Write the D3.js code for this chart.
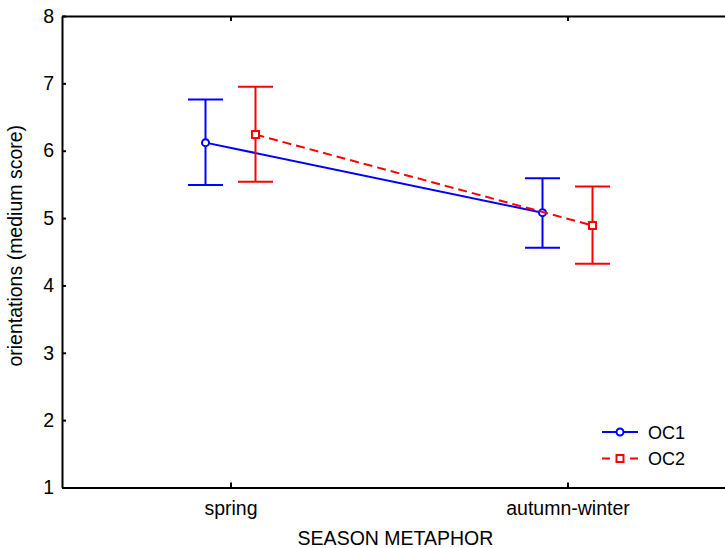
<!DOCTYPE html>
<html>
<head>
<meta charset="utf-8">
<script src="https://cdn.jsdelivr.net/npm/d3@7"></script>
<style>
  body { margin: 0; background: #fff; }
  svg text { font-family: "Liberation Sans", Arial, sans-serif; }
</style>
</head>
<body>
<div id="chart"></div>
<script>
// data
var categories = ["spring", "autumn-winter"];
var oc1Mean = [6.12, 5.08];
var oc1Low  = [5.49, 4.56];
var oc1High = [6.76, 5.59];
var oc2Mean = [6.24, 4.89];
var oc2Low  = [5.54, 4.32];
var oc2High = [6.95, 5.47];
var yTicks = [1, 2, 3, 4, 5, 6, 7, 8];

var W = 725, H = 548;
var margin = {top: 16, right: -11, bottom: 60.5, left: 62},
    width = W - margin.left - margin.right,
    height = H - margin.top - margin.bottom;

var fs = 19.5;

var svg = d3.select("#chart")
  .append("svg")
    .attr("width", W)
    .attr("height", H)
  .append("g")
    .attr("transform", "translate(" + margin.left + "," + margin.top + ")");

var x = d3.scalePoint()
    .domain(categories)
    .range([0, width])
    .padding(0.5);

var y = d3.scaleLinear()
    .domain([1, 8])
    .range([height, 0]);

// axes
var yAxis = svg.append("g")
    .call(d3.axisLeft(y).tickValues(yTicks).tickFormat(d3.format("d"))
      .tickSizeInner(-4).tickSizeOuter(0).tickPadding(8));

var xAxis = svg.append("g")
    .attr("transform", "translate(0," + height + ")")
    .call(d3.axisBottom(x).tickSizeInner(-5).tickSizeOuter(0).tickPadding(14));

var topAxis = svg.append("g")
    .call(d3.axisTop(x).tickSizeInner(-5).tickSizeOuter(0).tickFormat(""));

[yAxis, xAxis, topAxis].forEach(function(a) {
  a.select(".domain").attr("stroke", "#000").attr("stroke-width", 2);
  a.selectAll(".tick line").attr("stroke", "#000").attr("stroke-width", 2);
  a.selectAll("text").attr("font-size", fs).attr("fill", "#000")
    .attr("font-family", "Liberation Sans, Arial, sans-serif");
});

// axis titles
svg.append("text")
    .attr("x", 395.5 - margin.left)
    .attr("y", height + 57)
    .attr("text-anchor", "middle")
    .attr("font-size", fs)
    .text("SEASON METAPHOR");

svg.append("text")
    .attr("transform", "translate(" + (-40) + "," + (height / 2 - 6) + ") rotate(-90)")
    .attr("text-anchor", "middle")
    .attr("font-size", fs)
    .text("orientations (medium score)");

var series = [
  {name: "OC1", mean: oc1Mean, low: oc1Low, high: oc1High, color: "#0000ff", dx: -25, dash: null, marker: "circle"},
  {name: "OC2", mean: oc2Mean, low: oc2Low, high: oc2High, color: "#ff0000", dx: 25, dash: "9,5", marker: "square"}
];

var capHalf = 17.5;

series.forEach(function(s) {
  var pts = categories.map(function(c, i) {
    return {cx: x(c) + s.dx, m: s.mean[i], lo: s.low[i], hi: s.high[i]};
  });

  var g = svg.append("g");

  // whiskers
  g.selectAll(".whisker").data(pts).enter().append("line")
    .attr("x1", d => d.cx).attr("x2", d => d.cx)
    .attr("y1", d => y(d.lo)).attr("y2", d => y(d.hi))
    .attr("stroke", s.color).attr("stroke-width", 2);
  g.selectAll(".capHi").data(pts).enter().append("line")
    .attr("x1", d => d.cx - capHalf).attr("x2", d => d.cx + capHalf)
    .attr("y1", d => y(d.hi)).attr("y2", d => y(d.hi))
    .attr("stroke", s.color).attr("stroke-width", 2);
  g.selectAll(".capLo").data(pts).enter().append("line")
    .attr("x1", d => d.cx - capHalf).attr("x2", d => d.cx + capHalf)
    .attr("y1", d => y(d.lo)).attr("y2", d => y(d.lo))
    .attr("stroke", s.color).attr("stroke-width", 2);

  // connecting line
  g.append("path")
    .datum(pts)
    .attr("fill", "none")
    .attr("stroke", s.color)
    .attr("stroke-width", 2)
    .attr("stroke-dasharray", s.dash)
    .attr("d", d3.line().x(d => d.cx).y(d => y(d.m)));

  // markers
  if (s.marker == "circle") {
    g.selectAll(".mk").data(pts).enter().append("circle")
      .attr("cx", d => d.cx).attr("cy", d => y(d.m)).attr("r", 3.5)
      .attr("fill", "#fff").attr("stroke", s.color).attr("stroke-width", 2);
  } else {
    g.selectAll(".mk").data(pts).enter().append("rect")
      .attr("x", d => d.cx - 3.5).attr("y", d => y(d.m) - 3.5)
      .attr("width", 7).attr("height", 7)
      .attr("fill", "#fff").attr("stroke", s.color).attr("stroke-width", 2);
  }
});

// legend
var legend = svg.append("g")
    .attr("transform", "translate(" + (602 - margin.left) + "," + (432 - margin.top) + ")");

series.forEach(function(s, i) {
  var lg = legend.append("g").attr("transform", "translate(0," + (i * 26.5) + ")");
  lg.append("line")
    .attr("x1", 0).attr("x2", 36).attr("y1", 0).attr("y2", 0)
    .attr("stroke", s.color).attr("stroke-width", 2)
    .attr("stroke-dasharray", s.dash ? "8,6" : null);
  if (s.marker == "circle") {
    lg.append("circle").attr("cx", 18).attr("cy", 0).attr("r", 3.5)
      .attr("fill", "#fff").attr("stroke", s.color).attr("stroke-width", 2);
  } else {
    lg.append("rect").attr("x", 14.5).attr("y", -3.5).attr("width", 7).attr("height", 7)
      .attr("fill", "#fff").attr("stroke", s.color).attr("stroke-width", 2);
  }
  lg.append("text")
    .attr("x", 46).attr("y", 6.5)
    .attr("font-size", 18)
    .text(s.name);
});
</script>
</body>
</html>
